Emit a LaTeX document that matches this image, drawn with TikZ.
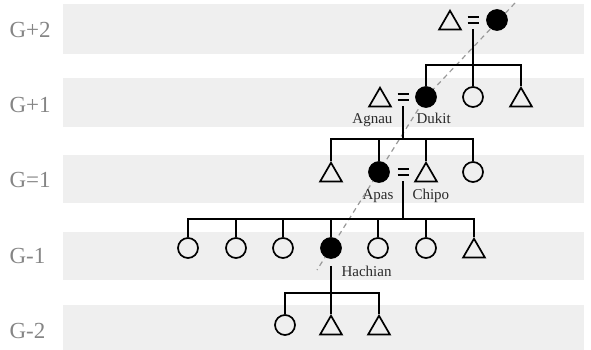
\documentclass[tikz,border=0pt]{standalone}
\usepackage{fontspec}
\setmainfont{Liberation Serif}
\usetikzlibrary{shapes.geometric, backgrounds}

\definecolor{bandgray}{HTML}{EFEFEF}
\definecolor{labgray}{HTML}{858585}
\definecolor{namegray}{HTML}{2A2A2A}
\newcommand{\marrsign}{\vbox{\hrule width 11pt height 1.8pt \vskip 3.6pt \hrule width 11pt height 1.8pt}}

\begin{document}
\begin{tikzpicture}[x=1pt, y=-1pt,
  fem/.style={circle, draw, line width=1.7pt, minimum size=20pt, inner sep=0pt},
  femfill/.style={fem, fill=black},
  male/.style={regular polygon, regular polygon sides=3, draw, line width=1.7pt, minimum size=25pt, inner sep=0pt, yshift=-3.2pt},
  marr/.style={minimum width=11pt, minimum height=18pt, inner sep=0pt},
  gen/.style={anchor=west, text=labgray, font=\fontsize{23}{23}\selectfont},
  who/.style={text=namegray, font=\fontsize{15}{16}\selectfont},
  kin/.style={line width=1.3pt},
  trail/.style={gray!80, line width=1.2pt, dash pattern=on 5pt off 4pt}]
\useasboundingbox (0,0) rectangle (591,350);

% generation labels
\node[gen] (g1) at (6,30) {G+2};
\node[gen] (g2) at (6,105) {G+1};
\node[gen] (g3) at (6,180) {G=1};
\node[gen] (g4) at (6,256) {G-1};
\node[gen] (g5) at (6,331) {G-2};

% G+2
\node[male] (a1) at (450,20) {};
\node[marr] (ea) at (473,20) {\marrsign};
\node[femfill] (a2) at (497,20) {};

% G+1
\node[male] (b1) at (380,97) {};
\node[marr] (eb) at (403,97) {\marrsign};
\node[femfill] (b2) at (426,97) {};
\node[fem] (b3) at (473,97) {};
\node[male] (b4) at (521,97) {};
\node[who, anchor=base east] (nagnau) at (396,124) {Agnau};
\node[who, anchor=base west] (ndukit) at (413,124) {Dukit};

% G=1
\node[male] (c1) at (331,172) {};
\node[femfill] (c2) at (379,172) {};
\node[marr] (ec) at (403,172) {\marrsign};
\node[male] (c3) at (426,172) {};
\node[fem] (c4) at (473,172) {};
\node[who, anchor=base east] (napas) at (397,199) {Apas};
\node[who, anchor=base west] (nchipo) at (409,199) {Chipo};

% G-1
\node[fem] (d1) at (188,248) {};
\node[fem] (d2) at (236,248) {};
\node[fem] (d3) at (283,248) {};
\node[femfill] (d4) at (331,248) {};
\node[fem] (d5) at (378,248) {};
\node[fem] (d6) at (426,248) {};
\node[male] (d7) at (474,248) {};
\node[who, anchor=base west] (nhach) at (338,276) {Hachian};

% G-2
\node[fem] (e1) at (285,325) {};
\node[male] (e2) at (331,325) {};
\node[male] (e3) at (379,325) {};

% sibling bars
\coordinate (ja) at (473,65);
\coordinate (jb) at (403,139);
\coordinate (jc) at (403,219);
\coordinate (jd) at (331,293);

\draw[kin] (ea) -- (ja);
\draw[kin] (b2.north) |- (ja) -| (b4.north);
\draw[kin] (ja) -- (b3.north);

\draw[kin] (eb) -- (jb);
\draw[kin] (c1.north) |- (jb) -| (c4.north);
\foreach \n in {c2,c3} \draw[kin] (\n.north) -- (\n.north |- jb);

\draw[kin] (ec) -- (jc);
\draw[kin] (d1.north) |- (jc) -| (d7.north);
\foreach \n in {d2,d3,d4,d5,d6} \draw[kin] (\n.north) -- (\n.north |- jc);

\draw[kin, shorten <=7pt] (d4) -- (jd);
\draw[kin] (e1.north) |- (jd) -| (e3.north);
\draw[kin] (jd) -- (e2.north);

% bands and line of descent
\coordinate (dtop) at (515,3);
\coordinate (dend) at (317,270);
\begin{scope}[on background layer]
\foreach \t/\b in {4/54, 78/127, 155/203, 232/280, 305/350}
  \fill[bandgray] (63,\t) rectangle (584,\b);
\draw[trail] (dtop) -- (b2.center) -- (dend);
\end{scope}
\end{tikzpicture}
\end{document}
